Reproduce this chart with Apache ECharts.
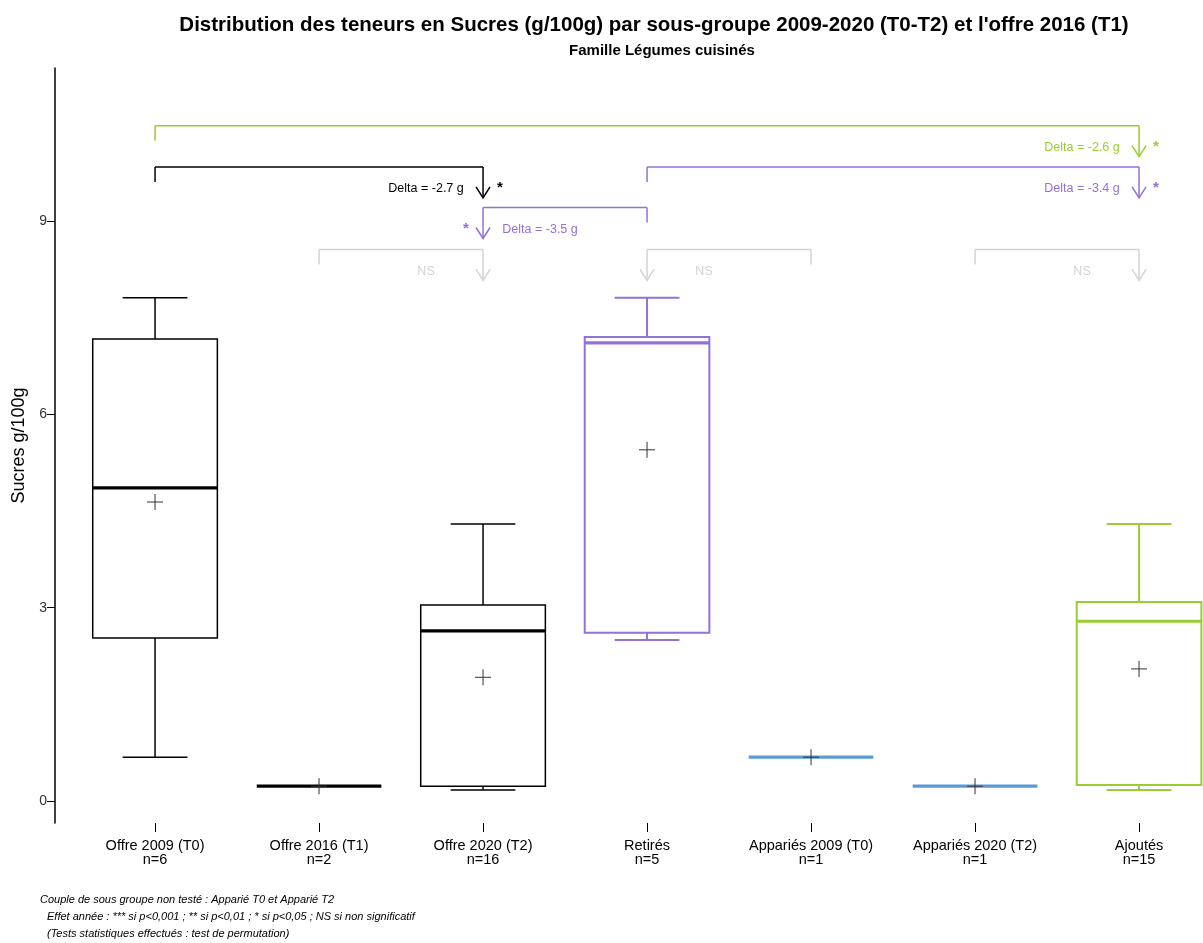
<!DOCTYPE html>
<html>
<head>
<meta charset="utf-8">
<script src="https://cdn.jsdelivr.net/npm/echarts@6/dist/echarts.min.js"></script>
<style>html,body{margin:0;padding:0;background:#fff}#c{width:1203px;height:943px}</style>
</head>
<body>
<div id="c"></div>
<script>
// ---- data ----
const categories = ['Offre 2009 (T0)', 'Offre 2016 (T1)', 'Offre 2020 (T2)', 'Retirés', 'Appariés 2009 (T0)', 'Appariés 2020 (T2)', 'Ajoutés'];
const counts = [6, 2, 16, 5, 1, 1, 15];
const lowerWhisker = [0.68, 0.23, 0.17, 2.50, 0.68, 0.23, 0.17];
const q1 = [2.53, 0.23, 0.23, 2.61, 0.68, 0.23, 0.25];
const median = [4.86, 0.23, 2.64, 7.11, 0.68, 0.23, 2.79];
const q3 = [7.17, 0.23, 3.04, 7.20, 0.68, 0.23, 3.09];
const upperWhisker = [7.81, 0.23, 4.30, 7.81, 0.68, 0.23, 4.30];
const means = [4.64, 0.23, 1.92, 5.45, 0.68, 0.23, 2.05];
const yTicks = [0, 3, 6, 9];
// comparisons: from index, to index (arrow), label, significance
const compFrom = [0, 0, 3, 3, 1, 4, 5];
const compTo = [6, 2, 6, 2, 2, 3, 6];
const compLabel = ['Delta = -2.6 g', 'Delta = -2.7 g', 'Delta = -3.4 g', 'Delta = -3.5 g', 'NS', 'NS', 'NS'];
const compSig = ['*', '*', '*', '*', '', '', ''];
const compLevel = [10.48, 9.84, 9.84, 9.21, 8.56, 8.56, 8.56];

// ---- styles ----
const BLACK = '#000000', PURPLE = '#9370DB', BLUE = '#5B9BD5', GREEN = '#9ACD32', GRAY = '#D3D3D3';
const boxColors = [BLACK, BLACK, BLACK, PURPLE, BLUE, BLUE, GREEN];
const compColors = [GREEN, BLACK, PURPLE, PURPLE, GRAY, GRAY, GRAY];
const FONT = '"Liberation Sans", Arial, sans-serif';

const boxData = categories.map((c, i) => [i + 1, lowerWhisker[i], q1[i], median[i], q3[i], upperWhisker[i], means[i]]);
const compData = compFrom.map((f, i) => [f + 1, compTo[i] + 1, compLevel[i]]);

function renderBox(params, api) {
  const i = params.dataIndex;
  const x = api.value(0);
  const band = api.size([1, 0])[0];
  const bw = band * 0.76, cap = bw * 0.52;
  const col = boxColors[i];
  const cx = api.coord([x, 0])[0];
  const y = v => api.coord([x, v])[1];
  const yLW = y(api.value(1)), yQ1 = y(api.value(2)), yMed = y(api.value(3)), yQ3 = y(api.value(4)), yUW = y(api.value(5)), yMean = y(api.value(6));
  const lw = col === BLACK ? 1.5 : 2;
  const st = { stroke: col, lineWidth: lw, fill: null };
  const ch = [];
  if (yQ1 - yQ3 > 0.5) {
    ch.push({ type: 'rect', shape: { x: cx - bw / 2, y: yQ3, width: bw, height: yQ1 - yQ3 }, style: st });
  }
  if (yQ3 - yUW > 0.5) {
    ch.push({ type: 'line', shape: { x1: cx, y1: yQ3, x2: cx, y2: yUW }, style: st });
    ch.push({ type: 'line', shape: { x1: cx - cap / 2, y1: yUW, x2: cx + cap / 2, y2: yUW }, style: st });
  }
  if (yLW - yQ1 > 0.5) {
    ch.push({ type: 'line', shape: { x1: cx, y1: yQ1, x2: cx, y2: yLW }, style: st });
    ch.push({ type: 'line', shape: { x1: cx - cap / 2, y1: yLW, x2: cx + cap / 2, y2: yLW }, style: st });
  }
  ch.push({ type: 'line', shape: { x1: cx - bw / 2, y1: yMed, x2: cx + bw / 2, y2: yMed }, style: { stroke: col, lineWidth: 3.2 } });
  const m = 8;
  ch.push({ type: 'line', shape: { x1: cx - m, y1: yMean, x2: cx + m, y2: yMean }, style: { stroke: '#333', lineWidth: 1 }, z2: 10 });
  ch.push({ type: 'line', shape: { x1: cx, y1: yMean - m, x2: cx, y2: yMean + m }, style: { stroke: '#333', lineWidth: 1 }, z2: 10 });
  return { type: 'group', children: ch };
}

function renderComp(params, api) {
  const i = params.dataIndex;
  const col = compColors[i];
  const p1 = api.coord([api.value(0), api.value(2)]);
  const p2 = api.coord([api.value(1), api.value(2)]);
  const yl = p1[1], xf = p1[0], xt = p2[0];
  const st = { stroke: col, lineWidth: 1.5, fill: null };
  const tip = yl + 31;
  const side = xf > xt ? 1 : -1;
  const ch = [
    { type: 'line', shape: { x1: xf, y1: yl, x2: xt, y2: yl }, style: st },
    { type: 'line', shape: { x1: xf, y1: yl, x2: xf, y2: yl + 15 }, style: st },
    { type: 'line', shape: { x1: xt, y1: yl, x2: xt, y2: tip }, style: st },
    { type: 'polyline', shape: { points: [[xt - 7, tip - 11], [xt, tip], [xt + 7, tip - 11]] }, style: st },
    { type: 'text', x: xt + side * 57, y: yl + 22, style: { text: compLabel[i], fill: col, font: '12.5px ' + FONT, align: 'center', verticalAlign: 'middle' } }
  ];
  if (compSig[i]) {
    ch.push({ type: 'text', x: xt - side * 17, y: yl + 21, style: { text: compSig[i], fill: col, font: 'bold 15px ' + FONT, align: 'center', verticalAlign: 'middle' } });
  }
  return { type: 'group', children: ch };
}

const chart = echarts.init(document.getElementById('c'), null, { renderer: 'canvas' });
chart.setOption({
  animation: false,
  backgroundColor: '#fff',
  title: [
    { text: 'Distribution des teneurs en Sucres (g/100g) par sous-groupe 2009-2020 (T0-T2) et l\'offre 2016 (T1)', left: 649, top: 10, textAlign: 'center',
      textStyle: { fontFamily: FONT, fontWeight: 'bold', fontSize: 20.5, color: '#000' } },
    { text: 'Famille Légumes cuisinés', left: 657, top: 38, textAlign: 'center',
      textStyle: { fontFamily: FONT, fontWeight: 'bold', fontSize: 15, color: '#000' } }
  ],
  grid: { left: 55, right: 0, top: 68, bottom: 120, containLabel: false, outerBoundsMode: 'none' },
  xAxis: {
    type: 'value', min: 0.39, max: 7.39,
    axisLine: { show: false, onZero: false },
    splitLine: { show: false },
    axisTick: { show: true, customValues: categories.map((c, i) => i + 1), length: 9, lineStyle: { color: '#000', width: 1 } },
    axisLabel: { customValues: categories.map((c, i) => i + 1), margin: 16, fontFamily: FONT, fontSize: 14.5, color: '#000', lineHeight: 14,
      formatter: v => categories[Math.round(v) - 1] + '\nn=' + counts[Math.round(v) - 1] }
  },
  yAxis: {
    type: 'value', min: -0.341, max: 11.375,
    name: 'Sucres g/100g', nameLocation: 'middle', nameGap: 27, nameRotate: 90,
    nameTextStyle: { fontFamily: FONT, fontSize: 18, color: '#000' },
    axisLine: { show: true, onZero: false, lineStyle: { color: '#000', width: 1.5 } },
    splitLine: { show: false },
    axisTick: { show: true, customValues: yTicks, length: 8, lineStyle: { color: '#000', width: 1 } },
    axisLabel: { customValues: yTicks, margin: 8, fontFamily: FONT, fontSize: 14, color: '#333' }
  },
  series: [
    { type: 'custom', renderItem: renderBox, data: boxData, clip: false, encode: { x: 0, y: [1, 2, 3, 4, 5, 6] } },
    { type: 'custom', renderItem: renderComp, data: compData, clip: false, encode: { x: [0, 1], y: 2 } }
  ],
  graphic: [
    { type: 'text', left: 40, top: 894, style: { text: 'Couple de sous groupe non testé : Apparié T0 et Apparié T2', font: 'italic 11px ' + FONT, fill: '#000' } },
    { type: 'text', left: 47, top: 911, style: { text: 'Effet année : *** si p<0,001 ; ** si p<0,01 ; * si p<0,05 ; NS si non significatif', font: 'italic 11px ' + FONT, fill: '#000' } },
    { type: 'text', left: 47, top: 928, style: { text: '(Tests statistiques effectués : test de permutation)', font: 'italic 11px ' + FONT, fill: '#000' } }
  ]
});
</script>
</body>
</html>
